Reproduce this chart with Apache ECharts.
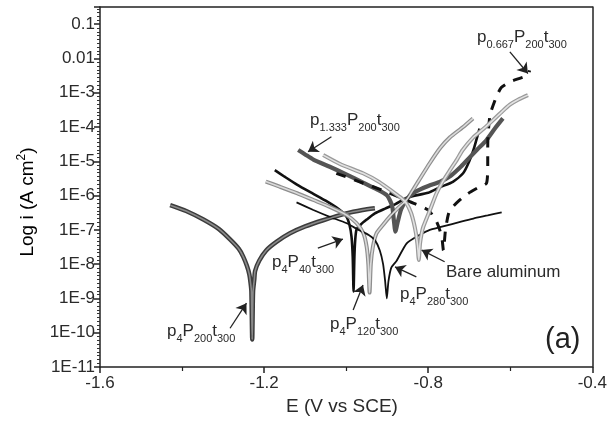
<!DOCTYPE html>
<html>
<head>
<meta charset="utf-8">
<script src="https://cdn.jsdelivr.net/npm/echarts@6/dist/echarts.min.js"></script>
<style>
  html, body { margin: 0; padding: 0; background: #fff; }
  #chart { width: 610px; height: 433px; }
</style>
</head>
<body>
<div id="chart"></div>
<script>
// E (V vs SCE) and log i values, one pair of arrays per sample
const p4P200_E = [-1.429, -1.39, -1.348, -1.31, -1.283, -1.262, -1.251, -1.242, -1.236, -1.233, -1.231, -1.229, -1.227, -1.224, -1.222, -1.212, -1.195, -1.17, -1.137, -1.10, -1.056, -1.0, -0.96, -0.93]
const p4P200_L = [-6.28, -6.45, -6.70, -6.98, -7.28, -7.55, -7.78, -8.05, -8.30, -8.55, -8.80, -10.2, -8.80, -8.45, -8.20, -7.90, -7.60, -7.35, -7.10, -6.90, -6.72, -6.52, -6.42, -6.37]

const p4P40_E = [-1.174, -1.15, -1.12, -1.08, -1.05, -1.02, -1.0, -0.992, -0.987, -0.984, -0.982, -0.980, -0.978, -0.975, -0.965, -0.95, -0.93, -0.905, -0.88, -0.85, -0.80, -0.77, -0.74, -0.715, -0.70, -0.688, -0.675]
const p4P40_L = [-5.26, -5.45, -5.68, -5.95, -6.15, -6.38, -6.60, -6.85, -7.20, -7.80, -8.80, -7.80, -7.30, -7.00, -6.85, -6.70, -6.52, -6.38, -6.25, -6.05, -5.92, -5.75, -5.60, -5.35, -5.00, -4.60, -4.05]

const p4P120_E = [-1.196, -1.162, -1.12, -1.08, -1.04, -0.999, -0.975, -0.958, -0.95, -0.946, -0.943, -0.940, -0.935, -0.926, -0.91, -0.894, -0.875, -0.853, -0.825, -0.796, -0.77, -0.747, -0.715, -0.691]
const p4P120_L = [-5.59, -5.74, -5.93, -6.13, -6.33, -6.57, -6.80, -7.10, -7.50, -8.00, -8.83, -8.00, -7.50, -7.10, -6.85, -6.62, -6.38, -6.13, -5.60, -5.05, -4.60, -4.30, -4.00, -3.75]

const p4P280_E = [-1.121, -1.08, -1.04, -1.0, -0.967, -0.945, -0.93, -0.918, -0.91, -0.905, -0.901, -0.897, -0.89, -0.877, -0.853, -0.829, -0.80, -0.764, -0.72, -0.69, -0.655, -0.621]
const p4P280_L = [-6.20, -6.42, -6.62, -6.80, -7.02, -7.15, -7.30, -7.60, -8.00, -8.50, -9.00, -8.50, -8.10, -7.90, -7.40, -7.20, -7.02, -6.90, -6.76, -6.67, -6.58, -6.49]

const p1333_E = [-1.117, -1.10, -1.08, -1.04, -1.0, -0.959, -0.925, -0.90, -0.888, -0.884, -0.88, -0.874, -0.866, -0.852, -0.83, -0.80, -0.772, -0.745, -0.72, -0.70, -0.68, -0.658, -0.638, -0.618]
const p1333_L = [-4.67, -4.80, -4.95, -5.16, -5.38, -5.62, -5.82, -6.00, -6.30, -6.70, -7.05, -6.75, -6.40, -6.10, -5.88, -5.72, -5.60, -5.42, -5.15, -4.90, -4.65, -4.38, -4.05, -3.75]

const p0667_E = [-1.024, -0.967, -0.902, -0.845, -0.80, -0.78, -0.772, -0.766, -0.763, -0.758, -0.752, -0.747, -0.725, -0.703, -0.68, -0.658, -0.655, -0.655, -0.654, -0.65, -0.646, -0.634, -0.622, -0.60, -0.577, -0.557, -0.553]
const p0667_L = [-5.35, -5.60, -5.89, -6.18, -6.42, -6.75, -7.00, -7.30, -7.60, -7.00, -6.60, -6.42, -6.15, -5.94, -5.78, -5.64, -5.10, -4.60, -4.19, -3.70, -3.51, -3.12, -2.85, -2.68, -2.58, -2.49, -2.35]

const bareAl_E = [-1.056, -1.015, -0.959, -0.92, -0.886, -0.865, -0.853, -0.842, -0.835, -0.83, -0.826, -0.823, -0.82, -0.816, -0.812, -0.795, -0.78, -0.765, -0.747, -0.73, -0.716, -0.69, -0.665, -0.642, -0.62, -0.601, -0.58, -0.557]
const bareAl_L = [-4.82, -5.08, -5.35, -5.60, -5.89, -6.08, -6.23, -6.50, -6.80, -7.10, -7.45, -7.88, -7.40, -7.10, -6.91, -6.40, -5.94, -5.60, -5.26, -4.95, -4.67, -4.30, -4.05, -3.80, -3.55, -3.35, -3.20, -3.07]

// annotation arrows: [tailE, tailLog, headE, headLog]
const arrows = [
  [-1.036, -4.285, -1.093, -4.72],
  [-0.601, -1.81, -0.557, -2.44],
  [-1.069, -7.53, -1.008, -7.27],
  [-1.283, -9.87, -1.243, -9.14],
  [-0.983, -9.34, -0.959, -8.61],
  [-0.829, -8.37, -0.881, -8.08],
  [-0.760, -7.93, -0.816, -7.59]
]

function zip(xs, ys) {
  return xs.map((x, i) => [x, ys[i]])
}

function yLabel(v) {
  const n = Math.round(v)
  if (Math.abs(v - n) > 1e-6) return ''
  if (n === -1) return '0.1'
  if (n === -2) return '0.01'
  return '1E' + n
}

const FONT = 'Liberation Sans, Arial, sans-serif'
const TXT = '#2a2a2a'

function sub(parts) {
  return parts.map(p => '{m|' + p[0] + '}{s|' + p[1] + '}').join('')
}
const richSub = {
  m: { fontSize: 17, fontFamily: FONT, color: TXT, lineHeight: 18, verticalAlign: 'bottom', padding: [0, 0, 4, 0] },
  s: { fontSize: 11, fontFamily: FONT, color: TXT, lineHeight: 12, verticalAlign: 'bottom' }
}

function label(x, y, parts) {
  return {
    type: 'text', left: x, top: y, silent: true,
    style: { text: sub(parts), rich: richSub, fill: TXT }
  }
}

const chart = echarts.init(document.getElementById('chart'), null, { renderer: 'canvas' })

function lineSeries(name, data, opt) {
  return Object.assign({
    name: name,
    type: 'line',
    data: data,
    smooth: 0.2,
    symbol: 'none',
    animation: false,
    z: 3
  }, opt)
}

const axisLineStyle = { color: '#222', width: 1.5 }

const option = {
  animation: false,
  backgroundColor: '#fff',
  grid: { left: 100, right: 17, top: 7, bottom: 66 },
  xAxis: [{
    type: 'value',
    min: -1.6, max: -0.4, interval: 0.4,
    axisLine: { show: true, onZero: false, lineStyle: axisLineStyle },
    axisTick: { show: true, length: 6, lineStyle: axisLineStyle },
    minorTick: { show: true, splitNumber: 2, length: 4, lineStyle: { color: '#222', width: 1.2 } },
    axisLabel: { fontSize: 17, fontFamily: FONT, color: TXT, margin: 8, formatter: v => v.toFixed(1) },
    splitLine: { show: false }
  }, {
    type: 'value', position: 'top',
    min: -1.6, max: -0.4,
    axisLine: { show: true, onZero: false, lineStyle: axisLineStyle },
    axisTick: { show: false }, axisLabel: { show: false }, splitLine: { show: false }
  }],
  yAxis: [{
    type: 'value',
    min: -11, max: -0.5, interval: 1,
    axisLine: { show: true, onZero: false, lineStyle: axisLineStyle },
    axisTick: { show: true, length: 6, lineStyle: axisLineStyle },
    minorTick: { show: true, splitNumber: 9, length: 3, lineStyle: { color: '#333', width: 1 } },
    axisLabel: { fontSize: 17, fontFamily: FONT, color: TXT, margin: 5, formatter: yLabel, showMaxLabel: false },
    splitLine: { show: false }
  }, {
    type: 'value', position: 'right',
    min: -11, max: -0.5,
    axisLine: { show: true, onZero: false, lineStyle: axisLineStyle },
    axisTick: { show: false }, axisLabel: { show: false }, splitLine: { show: false }
  }],
  series: [
    // p4P200t300: dark outlined band
    lineSeries('p4P200t300', zip(p4P200_E, p4P200_L), {
      lineStyle: { color: '#3c3c3c', width: 4.5 }
    }),
    lineSeries('p4P200t300 core', zip(p4P200_E, p4P200_L), {
      lineStyle: { color: '#8a8a8a', width: 1.6 }, z: 4
    }),
    lineSeries('p4P40t300', zip(p4P40_E, p4P40_L), {
      lineStyle: { color: '#111', width: 2.6 }
    }),
    // p4P120t300: light grey outlined band
    lineSeries('p4P120t300', zip(p4P120_E, p4P120_L), {
      lineStyle: { color: '#8e8e8e', width: 4 }
    }),
    lineSeries('p4P120t300 core', zip(p4P120_E, p4P120_L), {
      lineStyle: { color: '#dadada', width: 1.6 }, z: 4
    }),
    lineSeries('p4P280t300', zip(p4P280_E, p4P280_L), {
      lineStyle: { color: '#111', width: 1.8 }
    }),
    lineSeries('p1.333P200t300', zip(p1333_E, p1333_L), {
      lineStyle: { color: '#555', width: 4.2 }
    }),
    lineSeries('p0.667P200t300', zip(p0667_E, p0667_L), {
      lineStyle: { color: '#111', width: 3, type: [10, 9] }
    }),
    lineSeries('Bare aluminum', zip(bareAl_E, bareAl_L), {
      lineStyle: { color: '#9a9a9a', width: 4 }
    }),
    lineSeries('Bare aluminum core', zip(bareAl_E, bareAl_L), {
      lineStyle: { color: '#e2e2e2', width: 1.6 }, z: 4
    }),
    {
      name: 'arrows',
      type: 'line',
      data: [],
      silent: true,
      markLine: {
        silent: true,
        animation: false,
        symbol: ['none', 'arrow'],
        symbolSize: 10,
        label: { show: false },
        emphasis: { disabled: true },
        lineStyle: { color: '#222', width: 1.3, type: 'solid' },
        data: arrows.map(a => [{ coord: [a[0], a[1]] }, { coord: [a[2], a[3]] }])
      }
    }
  ],
  graphic: [
    {
      type: 'text', x: 26, y: 202, rotation: Math.PI / 2, silent: true,
      style: {
        text: '{t|Log i (A cm}{sup|2}{t|)}',
        align: 'center', verticalAlign: 'middle',
        rich: {
          t: { fontSize: 19, fontFamily: FONT, color: TXT, lineHeight: 22, verticalAlign: 'bottom' },
          sup: { fontSize: 12, fontFamily: FONT, color: TXT, lineHeight: 22, verticalAlign: 'bottom', padding: [0, 0, 9, 0] }
        }
      }
    },
    {
      type: 'text', x: 342, y: 407, silent: true,
      style: { text: 'E (V vs SCE)', fontSize: 19, fontFamily: FONT, fill: TXT, align: 'center', verticalAlign: 'middle' }
    },
    label(310, 112, [['p', '1.333'], ['P', '200'], ['t', '300']]),
    label(477, 29, [['p', '0.667'], ['P', '200'], ['t', '300']]),
    label(272, 254, [['p', '4'], ['P', '40'], ['t', '300']]),
    label(167, 323, [['p', '4'], ['P', '200'], ['t', '300']]),
    label(330, 316, [['p', '4'], ['P', '120'], ['t', '300']]),
    label(400, 286, [['p', '4'], ['P', '280'], ['t', '300']]),
    {
      type: 'text', left: 446, top: 264, silent: true,
      style: { text: 'Bare aluminum', fontSize: 17, fontFamily: FONT, fill: TXT }
    },
    {
      type: 'text', left: 545, top: 325, silent: true,
      style: { text: '(a)', fontSize: 29, fontFamily: FONT, fill: '#222' }
    }
  ]
}

chart.setOption(option)
</script>
</body>
</html>
